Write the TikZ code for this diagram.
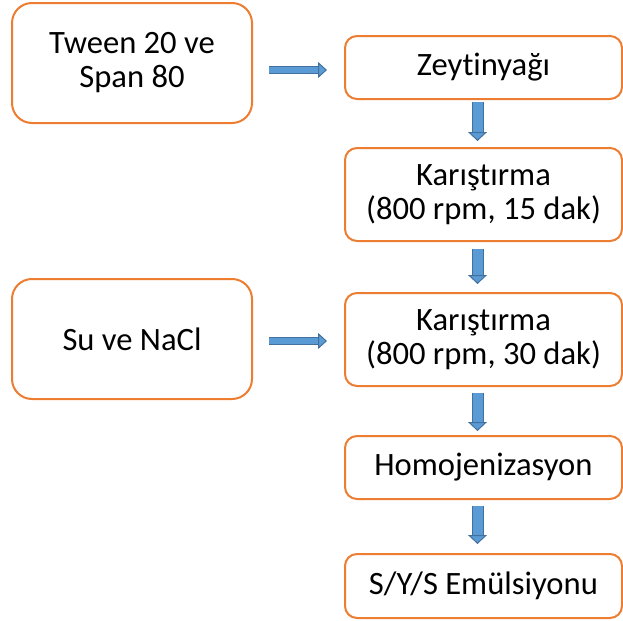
\documentclass[tikz,border=0pt]{standalone}
\usepackage{fontspec}
\setmainfont[Ligatures=NoCommon]{Carlito}
\usepackage{tikz}
\usetikzlibrary{arrows.meta}
\definecolor{boxorange}{HTML}{ED7D31}
\definecolor{arrfill}{HTML}{5B9BD5}
\definecolor{arredge}{HTML}{41719C}

\begin{document}
\begin{tikzpicture}[
        x=0.5pt, y=-0.5pt,
        font=\fontsize{16.3}{17}\selectfont,
        every node/.style={align=center},
        srcbox/.style={rectangle, rounded corners=10pt, draw=boxorange, line width=1pt,
                       fill=white, minimum width=120pt, minimum height=60pt, inner sep=0pt},
        stepbox/.style={rectangle, rounded corners=6pt, draw=boxorange, line width=1pt,
                        fill=white, minimum width=138.5pt, inner sep=0pt},
        arr/.style 2 args={draw=arrfill, line width=#1,
                           -{Triangle[length=4.5pt, width=#2, color=arredge, fill=arrfill, line width=0.5pt]},
                           preaction={draw=arredge, line width=#1+1pt, -, shorten >=4.5pt}},
        hflow/.style={arr={3.2pt}{8pt}},
        vflow/.style={arr={5pt}{9.5pt}}
    ]
        \useasboundingbox (0,0) rectangle (623,621);

        % sol sutun
        \node[srcbox] (tw) at (132,63) {Tween 20 ve\\Span 80};
        \node[srcbox] (su) at (132,339) {Su ve NaCl};

        % sag sutun
        \node[stepbox, minimum height=31.5pt] (zy) at (483.5,67.5) {Zeytinyağı};
        \node[stepbox, minimum height=46.5pt] (k1) at (483.5,194.5) {Karıştırma\\(800 rpm, 15 dak)};
        \node[stepbox, minimum height=46.5pt] (k2) at (483.5,339.5) {Karıştırma\\(800 rpm, 30 dak)};
        \node[stepbox, minimum height=31.5pt] (hm) at (483.5,467.5) {Homojenizasyon};
        \node[stepbox, minimum height=32pt] (se) at (483.5,586) {S/Y/S Emülsiyonu};

        \draw[hflow] ([xshift=8pt, yshift=-3.5pt]tw.east) -- ([xshift=-8.5pt, yshift=-1.25pt]zy.west);
        \draw[hflow] ([xshift=8pt, yshift=-1pt]su.east) -- ([xshift=-8.5pt, yshift=-0.75pt]k2.west);

        \draw[vflow] ([xshift=-3pt, yshift=-1pt]zy.south) -- ([xshift=-3pt, yshift=3pt]k1.north);
        \draw[vflow] ([xshift=-3pt, yshift=-3.5pt]k1.south) -- ([xshift=-3pt, yshift=4pt]k2.north);
        \draw[vflow] ([xshift=-3pt, yshift=-3pt]k2.south) -- ([xshift=-3pt, yshift=2pt]hm.north);
        \draw[vflow] ([xshift=-3pt, yshift=-3pt]hm.south) -- ([xshift=-3pt, yshift=4.5pt]se.north);
    \end{tikzpicture}
\end{document}
